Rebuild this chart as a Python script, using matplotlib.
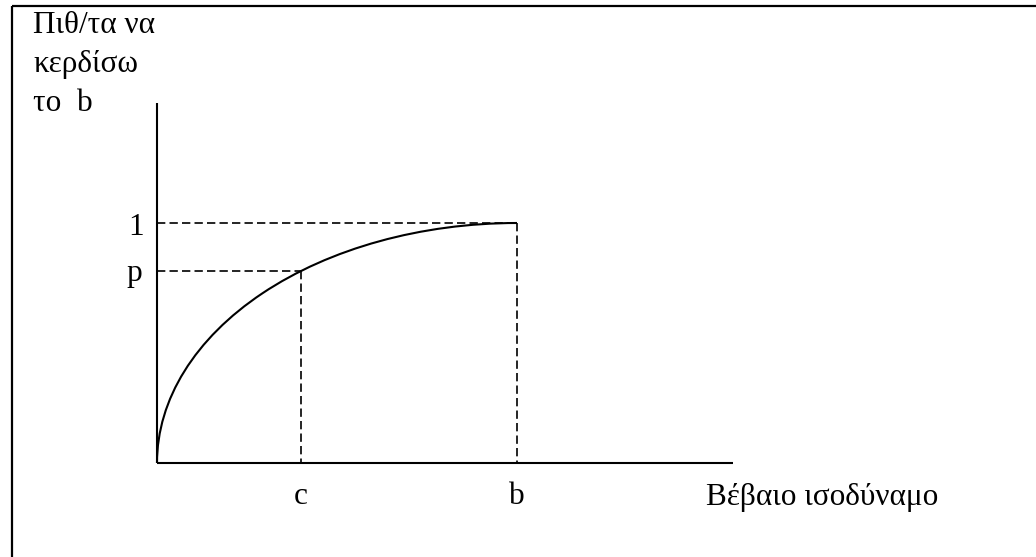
import matplotlib
matplotlib.use("Agg")
import matplotlib.pyplot as plt
from matplotlib.patches import Arc
from matplotlib.lines import Line2D

plt.rcParams['font.family'] = ['Liberation Serif', 'DejaVu Serif']

# Values on the diagram (x in units of b, y in probability)
b_value = 1.0
c_value = 0.4
p_value = 0.8
top_prob = 1.0
x_axis_end = 1.6
y_axis_end = 1.5

y_title = "Πιθ/τα να\nκερδίσω\nτο  b"
x_title = "Βέβαιο ισοδύναμο"
x_labels = ["c", "b"]
y_labels = ["1", "p"]

W, H, DPI = 1036, 557, 100
fig = plt.figure(figsize=(W / DPI, H / DPI), dpi=DPI)
ax = fig.add_axes([0, 0, 1, 1])
# origin sits at pixel (157, 463); one x-unit = 360 px, one y-unit = 240 px
ax.set_xlim(-157 / 360, (W - 157) / 360)
ax.set_ylim(-(H - 463) / 240, 463 / 240)
ax.axis('off')

# frame around the figure (top and left edges visible)
fig.add_artist(Line2D([12 / W, 1.0], [1 - 6 / H, 1 - 6 / H], color='black', lw=1.6,
                      transform=fig.transFigure, solid_capstyle='butt'))
fig.add_artist(Line2D([12 / W, 12 / W], [1 - 6 / H, 0], color='black', lw=1.6,
                      transform=fig.transFigure, solid_capstyle='butt'))

# axes
ax.plot([0, x_axis_end], [0, 0], color='black', lw=1.5, solid_capstyle='butt')
ax.plot([0, 0], [0, y_axis_end], color='black', lw=1.5, solid_capstyle='butt')

# concave utility-probability curve: quarter ellipse from origin to (b, 1)
arc = Arc((b_value, 0), 2 * b_value, 2 * top_prob, theta1=90, theta2=180,
          color='black', lw=1.5)
ax.add_patch(arc)

dash = dict(color='black', lw=1.2, linestyle=(0, (5, 2.5)))
ax.plot([0, b_value], [top_prob, top_prob], **dash)
ax.plot([b_value, b_value], [top_prob, 0], **dash)
ax.plot([0, c_value], [p_value, p_value], **dash)
ax.plot([c_value, c_value], [p_value, 0], **dash)

fs = 22.5
txt = dict(textcoords='offset points', va='baseline', fontsize=fs)
ax.annotate(y_labels[0], (0, top_prob), xytext=(-15.1, -8.6), ha='center', **txt)
ax.annotate(y_labels[1], (0, p_value), xytext=(-16.6, -7.2), ha='center', **txt)
ax.annotate(x_labels[0], (c_value, 0), xytext=(0, -29.5), ha='center', **txt)
ax.annotate(x_labels[1], (b_value, 0), xytext=(0, -29.5), ha='center', **txt)
ax.annotate(x_title, (x_axis_end, 0), xytext=(-19.4, -30.2), ha='left', **txt)
ax.annotate(y_title, (0, y_axis_end), xytext=(-89.3, -5.7), ha='left',
            linespacing=1.46, **txt)

fig.savefig("out.png", dpi=DPI)
